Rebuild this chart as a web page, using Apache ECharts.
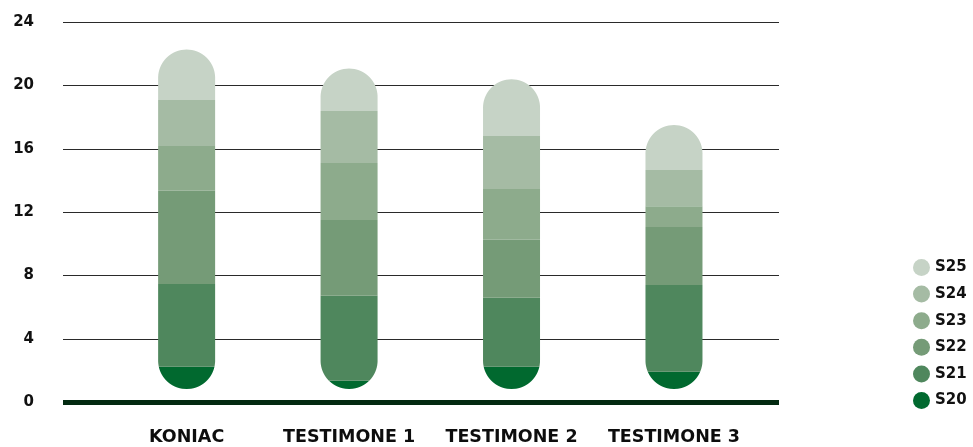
<!DOCTYPE html>
<html>
<head>
<meta charset="utf-8">
<script src="https://cdn.jsdelivr.net/npm/echarts@6/dist/echarts.min.js"></script>
<style>
  html, body { margin: 0; padding: 0; background: #fff; }
  #chart { width: 973px; height: 447px; }
</style>
</head>
<body>
<div id="chart"></div>
<script>
// Categories and the stacked segment heights of each pill
const categories = ['KONIAC', 'TESTIMONE 1', 'TESTIMONE 2', 'TESTIMONE 3'];
// value where each pill begins
const pillStart = [0.84, 0.84, 0.84, 0.84];
const S20 = [1.41, 0.52, 1.41, 1.09];
const S21 = [5.21, 5.37, 4.35, 5.47];
const S22 = [5.89, 4.77, 3.66, 3.66];
const S23 = [2.82, 3.60, 3.20, 1.32];
const S24 = [2.90, 3.28, 3.34, 2.28];
const S25 = [3.19, 2.69, 3.58, 2.84];
const yTicks = [0, 4, 8, 12, 16, 20, 24];

const seriesNames = ['S20', 'S21', 'S22', 'S23', 'S24', 'S25'];
const seriesValues = [S20, S21, S22, S23, S24, S25];
const seriesColors = ['#01692f', '#4f875d', '#759b77', '#8dab8c', '#a5bba4', '#c6d3c6'];

const BAR_WIDTH = 57;
const FONT = '"DejaVu Sans", sans-serif';

// total top of each pill
const pillTop = categories.map((c, i) =>
  pillStart[i] + seriesValues.reduce((s, arr) => s + arr[i], 0));

// Draw one segment as the slice of a stadium (pill) shape between lo and hi
function renderSegment(params, api) {
  const idx = api.value(0);
  const lo = api.value(1), hi = api.value(2);
  const pLo = api.value(3), pHi = api.value(4);
  const top = api.coord([idx, pHi]);
  const bot = api.coord([idx, pLo]);
  const ya = api.coord([idx, hi])[1];
  const yb = api.coord([idx, lo])[1];
  const cx = top[0];
  const hw = BAR_WIDTH / 2;
  const yT = top[1], yB = bot[1];
  const r = Math.min(hw, (yB - yT) / 2);
  function half(y) {
    let d = 0;
    if (y < yT + r) d = (yT + r - y) / r;
    else if (y > yB - r) d = (y - (yB - r)) / r;
    d = Math.min(1, d);
    return hw * Math.sqrt(Math.max(0, 1 - d * d));
  }
  const ys = [];
  const step = 0.5;
  for (let y = ya; y < yb; y += step) ys.push(y);
  ys.push(yb);
  const left = ys.map(y => [cx - half(y), y]);
  const right = ys.slice().reverse().map(y => [cx + half(y), y]);
  return {
    type: 'polygon',
    shape: { points: left.concat(right) },
    style: { fill: api.visual('color') }
  };
}

const series = seriesNames.map((name, s) => {
  const data = categories.map((c, i) => {
    let lo = pillStart[i];
    for (let k = 0; k < s; k++) lo += seriesValues[k][i];
    const hi = lo + seriesValues[s][i];
    return [i, lo, hi, pillStart[i], pillTop[i]];
  });
  return {
    name: name,
    type: 'custom',
    xAxisIndex: 1,
    yAxisIndex: 1,
    renderItem: renderSegment,
    itemStyle: { color: seriesColors[s] },
    encode: { x: 0, y: [1, 2] },
    data: data,
    z: 3
  };
});

const chart = echarts.init(document.getElementById('chart'), null, { renderer: 'canvas' });
chart.setOption({
  animation: false,
  legend: {
    orient: 'vertical',
    left: 908,
    top: 254,
    icon: 'circle',
    itemWidth: 17,
    itemHeight: 17,
    itemGap: 9.6,
    data: seriesNames.slice().reverse(),
    textStyle: { fontFamily: FONT, fontWeight: 'bold', fontSize: 15, color: '#111' }
  },
  grid: [
    { left: 63, right: 194, top: 22, bottom: 44.7 },
    { left: 105.4, right: 217.8, top: 22, bottom: 44.7 }
  ],
  xAxis: [
    {
      gridIndex: 0, type: 'value', min: 0, max: 1,
      axisLine: { show: true, lineStyle: { color: '#032a11', width: 5, cap: 'butt' } },
      axisTick: { show: false }, axisLabel: { show: false }, splitLine: { show: false }
    },
    {
      gridIndex: 1, type: 'category', data: categories,
      axisLine: { show: false }, axisTick: { show: false },
      axisLabel: {
        interval: 0,
        hideOverlap: false,
        margin: 26,
        fontFamily: FONT, fontWeight: 'bold', fontSize: 17.5, color: '#0d0d0d'
      }
    }
  ],
  yAxis: [
    {
      gridIndex: 0, type: 'value', min: yTicks[0], max: yTicks[yTicks.length - 1], interval: 4,
      axisLine: { show: false }, axisTick: { show: false },
      axisLabel: { margin: 29, fontFamily: FONT, fontWeight: 'bold', fontSize: 15, color: '#111' },
      splitLine: { lineStyle: { color: '#2a2a2a', width: 1.2 } }
    },
    {
      gridIndex: 1, type: 'value', min: yTicks[0], max: yTicks[yTicks.length - 1], interval: 4,
      show: false
    }
  ],
  series: series
});
</script>
</body>
</html>
